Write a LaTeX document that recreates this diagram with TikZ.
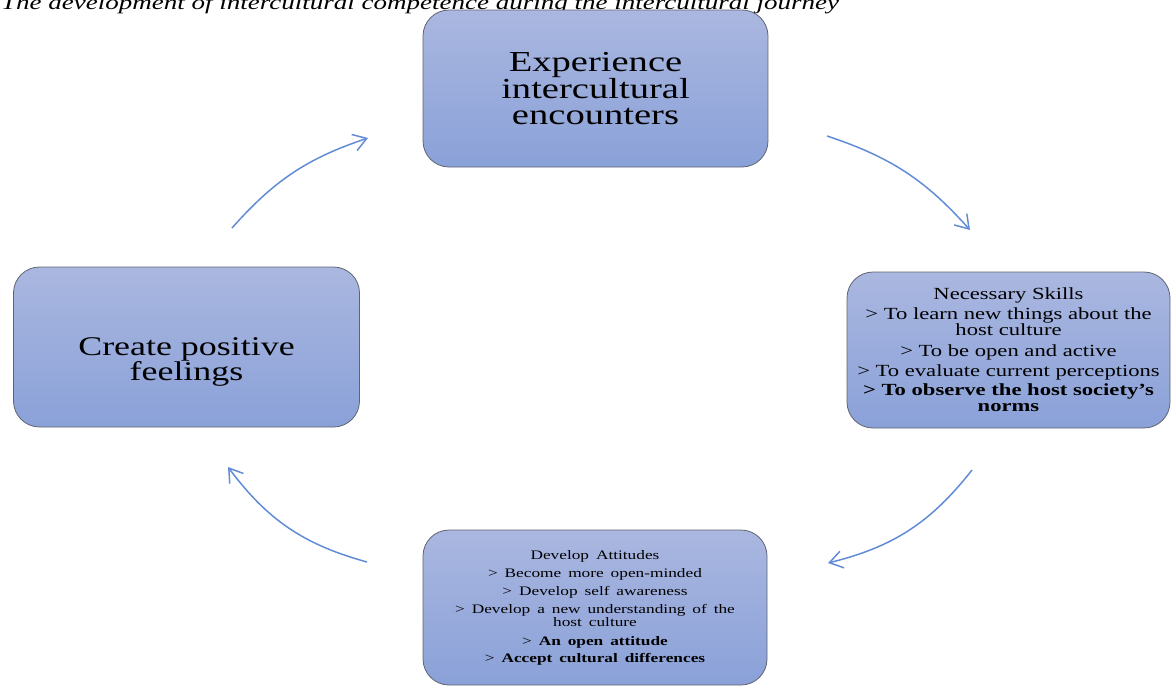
\documentclass[tikz,border=0pt]{standalone}
\usepackage{fontspec}
\setmainfont{Liberation Serif}[FakeStretch=1.33]
\newfontfamily\btmfont{Liberation Serif}[FakeStretch=1.33,WordSpace=1.6]
\usetikzlibrary{arrows.meta}
\definecolor{boxtop}{RGB}{170,183,224}
\definecolor{boxbot}{RGB}{138,161,216}
\definecolor{boxline}{RGB}{95,100,115}
\definecolor{arrowblue}{RGB}{98,140,214}
\begin{document}
\begin{tikzpicture}[x=1pt,y=-1pt,
  box/.style={draw=boxline, line width=0.8pt, rounded corners=26pt,
    top color=boxtop, bottom color=boxbot, align=center, inner sep=0pt, text=black},
  flow/.style={draw=arrowblue, line width=1.5pt,
    -{Straight Barb[length=13pt,width=17pt,line width=1.5pt]}}
]
\useasboundingbox (0,0) rectangle (1173,686);
\clip (0,0) rectangle (1173,686);

\node[anchor=base west, inner sep=0pt, font=\fontsize{20.3}{24}\selectfont\itshape] (title) at (1,9)
  {The development of intercultural competence during the intercultural journey};

\node[box, minimum width=345pt, minimum height=157pt, font=\fontsize{29}{26}\selectfont] (enc) at (595.5,88.5)
  {Experience\\ intercultural\\ encounters};

\node[box, minimum width=346pt, minimum height=160pt, font=\fontsize{27}{22}\selectfont] (feel) at (186.5,347)
  {\rule{0pt}{48pt}Create positive\\ feelings};

\node[box, minimum width=323pt, minimum height=156pt, font=\fontsize{17}{16}\selectfont] (skills) at (1008.5,350)
  {Necessary Skills\\[4pt]
   > To learn new things about the\\ host culture\\[5pt]
   > To be open and active\\[4pt]
   > To evaluate current perceptions\\[3pt]
   \textbf{> To observe the host society’s}\\ \textbf{norms}};

\node[box, minimum width=344pt, minimum height=155pt, font=\btmfont\fontsize{13}{13}\selectfont] (att) at (595,607.5)
  {Develop Attitudes\\[5pt]
   > Become more open-minded\\[5pt]
   > Develop self awareness\\[5pt]
   > Develop a new understanding of the\\ host culture\\[6pt]
   > \textbf{An open attitude}\\[4pt]
   > \textbf{Accept cultural differences}};

\coordinate (a1s) at (232,228);
\coordinate (a1e) at (368,138);
\coordinate (a2s) at (827,136);
\coordinate (a2e) at (970,230);
\coordinate (a3s) at (972,470);
\coordinate (a3e) at (828,563);
\coordinate (a4s) at (367,562);
\coordinate (a4e) at (228,467);

\draw[flow] (a1s) to[bend left=15] (a1e);
\draw[flow] (a2s) to[bend left=15] (a2e);
\draw[flow] (a3s) to[bend left=19] (a3e);
\draw[flow] (a4s) to[bend left=19] (a4e);
\end{tikzpicture}
\end{document}
